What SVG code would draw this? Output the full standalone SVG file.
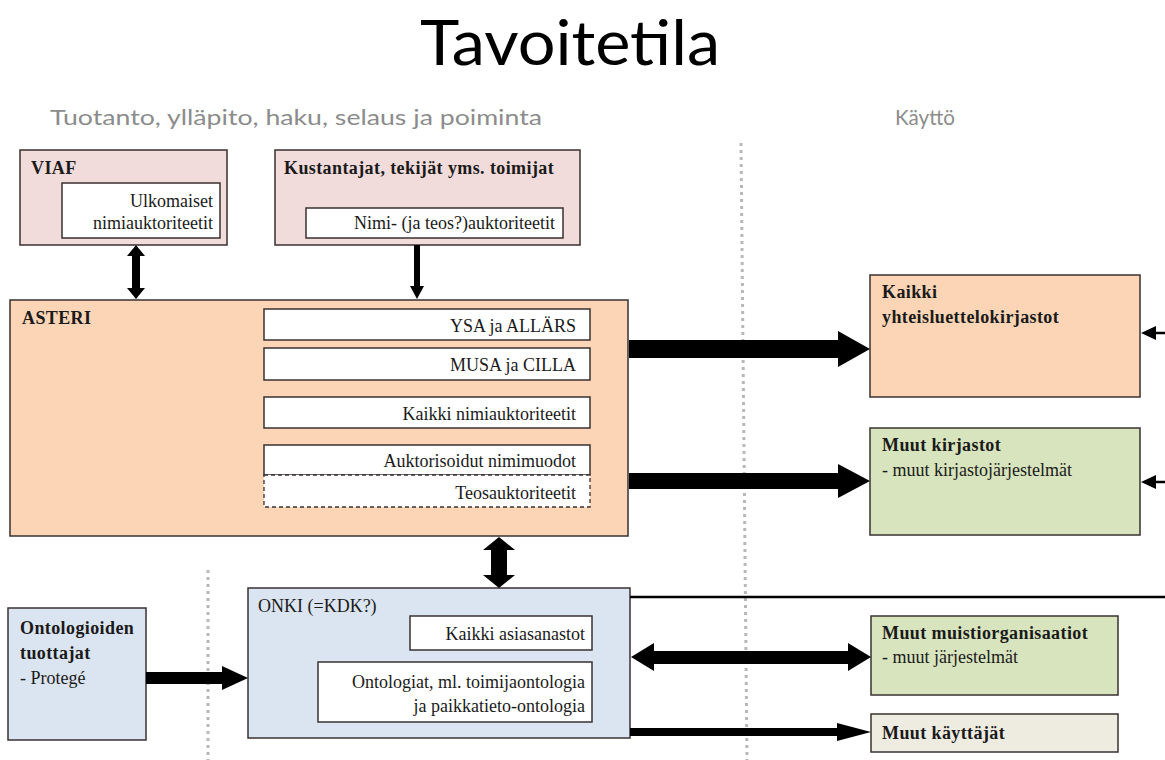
<svg xmlns="http://www.w3.org/2000/svg" width="1165" height="760" viewBox="0 0 1165 760">
<style>
.box{stroke:#3a3030;stroke-width:1.5}
.pink{fill:#f2dcdb}.peach{fill:#fbd5b5}.green{fill:#d7e4bd}.blue{fill:#dbe5f1}.beige{fill:#eeece1}
.inner{fill:#fff;stroke:#3a3030;stroke-width:1.5}
.t{font-family:"Liberation Serif","Times New Roman",serif;font-size:18px;fill:#1a1a1a}
.b{font-weight:bold;letter-spacing:0.4px}
.r{text-anchor:end}
.arr{fill:#000}
.dot{stroke:#b8b8b8;stroke-width:3;stroke-dasharray:3 4}
</style>
<rect width="1165" height="760" fill="#fff"/>
<text x="570" y="65" text-anchor="middle" font-family="Lato,'Open Sans',sans-serif" font-size="62" textLength="300" lengthAdjust="spacingAndGlyphs" fill="#000">Tavoitetila</text>
<text x="50" y="125" font-family="Lato,'Open Sans',sans-serif" font-size="22" textLength="492" lengthAdjust="spacingAndGlyphs" fill="#8c8c8c">Tuotanto, ylläpito, haku, selaus ja poiminta</text>
<text x="895" y="125" font-family="Lato,'Open Sans',sans-serif" font-size="22" textLength="60" lengthAdjust="spacingAndGlyphs" fill="#8c8c8c">Käyttö</text>
<line class="dot" x1="741" y1="143" x2="747" y2="760"/>
<line class="dot" x1="208" y1="570" x2="208" y2="760"/>
<g id="viaf">
<rect class="box pink" x="20" y="150" width="207" height="95"/>
<text class="t b" x="31" y="174">VIAF</text>
<rect class="inner" x="62" y="183" width="158" height="55"/>
<text class="t r" x="213" y="207">Ulkomaiset</text>
<text class="t r" x="213" y="229">nimiauktoriteetit</text>
</g>
<g id="kustantajat">
<rect class="box pink" x="275" y="150" width="305" height="95"/>
<text class="t b" x="284" y="174">Kustantajat, tekijät yms. toimijat</text>
<rect class="inner" x="306" y="208" width="257" height="30"/>
<text class="t r" x="555" y="229">Nimi- (ja teos?)auktoriteetit</text>
</g>
<g id="asteri">
<rect class="box peach" x="10" y="300" width="618" height="236"/>
<text class="t b" x="22" y="324">ASTERI</text>
<rect class="inner" x="264" y="309" width="326" height="31"/>
<text class="t r" x="576" y="332">YSA ja ALLÄRS</text>
<rect class="inner" x="264" y="348" width="326" height="32"/>
<text class="t r" x="576" y="371">MUSA ja CILLA</text>
<rect class="inner" x="264" y="397" width="326" height="31"/>
<text class="t r" x="576" y="420">Kaikki nimiauktoriteetit</text>
<rect class="inner" x="264" y="445" width="326" height="30"/>
<text class="t r" x="576" y="467">Auktorisoidut nimimuodot</text>
<rect x="264" y="475" width="326" height="32" fill="#fff" stroke="#3a3030" stroke-width="1.3" stroke-dasharray="4 3"/>
<text class="t r" x="576" y="499">Teosauktoriteetit</text>
</g>
<g id="yhteisluettelo">
<rect class="box peach" x="870" y="275" width="270" height="122"/>
<text class="t b" x="882" y="298">Kaikki</text>
<text class="t b" x="882" y="323">yhteisluettelokirjastot</text>
</g>
<g id="muutkirjastot">
<rect class="box green" x="870" y="428" width="270" height="107"/>
<text class="t b" x="882" y="451">Muut kirjastot</text>
<text class="t" x="882" y="476">- muut kirjastojärjestelmät</text>
</g>
<g id="ontologioiden">
<rect class="box blue" x="8" y="608" width="138" height="132"/>
<text class="t b" x="20" y="634">Ontologioiden</text>
<text class="t b" x="20" y="659">tuottajat</text>
<text class="t" x="20" y="684">- Protegé</text>
</g>
<g id="onki">
<rect class="box blue" x="248" y="588" width="382" height="150"/>
<text class="t" x="258" y="612">ONKI (=KDK?)</text>
<rect class="inner" x="410" y="616" width="182" height="34"/>
<text class="t r" x="585" y="640">Kaikki asiasanastot</text>
<rect class="inner" x="318" y="662" width="274" height="60"/>
<text class="t r" x="585" y="688">Ontologiat, ml. toimijaontologia</text>
<text class="t r" x="585" y="712">ja paikkatieto-ontologia</text>
</g>
<g id="muistiorganisaatiot">
<rect class="box green" x="871" y="616" width="247" height="79"/>
<text class="t b" x="882" y="639">Muut muistiorganisaatiot</text>
<text class="t" x="882" y="663">- muut järjestelmät</text>
</g>
<g id="kayttajat">
<rect class="box beige" x="871" y="714" width="247" height="38"/>
<text class="t b" x="882" y="739">Muut käyttäjät</text>
</g>
<g id="connectors">
<polygon class="arr" points="136,245 145,256 140,256 140,288 145,288 136,299 127,288 132,288 132,256 127,256"/>
<polygon class="arr" points="414,245 420,245 420,286 424,286 417,299 410,286 414,286"/>
<polygon class="arr" points="499,537 515,550 507,550 507,575 515,575 499,588 483,575 491,575 491,550 483,550"/>
<polygon class="arr" points="629,340 838,340 838,331 870,349 838,367 838,358 629,358"/>
<polygon class="arr" points="629,473 838,473 838,464 870,481 838,498 838,489 629,489"/>
<line x1="1165" y1="333" x2="1152" y2="333" stroke="#000" stroke-width="2.5"/>
<polygon class="arr" points="1141,333 1156,326 1156,340"/>
<line x1="1165" y1="482" x2="1152" y2="482" stroke="#000" stroke-width="2.5"/>
<polygon class="arr" points="1141,482 1156,475 1156,489"/>
<line x1="630" y1="597" x2="1165" y2="597" stroke="#000" stroke-width="2.5"/>
<polygon class="arr" points="631,657 654,643 654,651 848,651 848,643 871,657 848,671 848,664 654,664 654,671"/>
<polygon class="arr" points="630,728 837,728 837,723 871,732 837,741 837,736 630,736"/>
<polygon class="arr" points="146,672 222,672 222,666 248,678 222,690 222,684 146,684"/>
</g>
</svg>
